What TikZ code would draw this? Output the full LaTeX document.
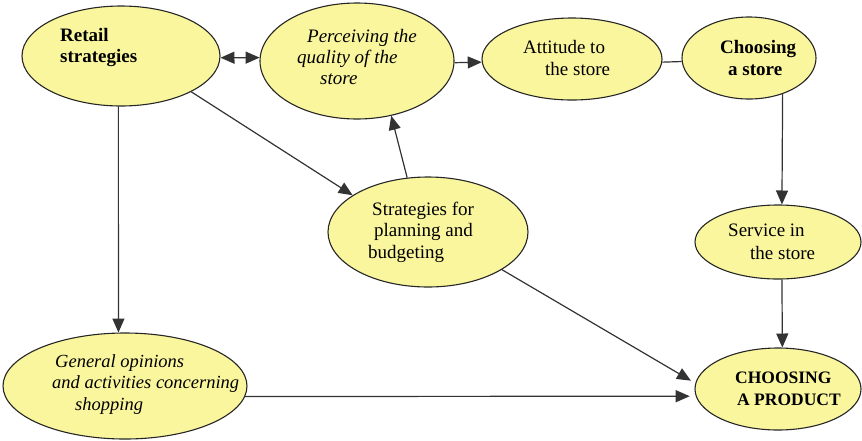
\documentclass[tikz,border=0pt]{standalone}
\usepackage{fontspec}
\setmainfont{Liberation Serif}[Ligatures=TeX]
\newfontfamily\labelfont{Liberation Serif}
\usetikzlibrary{arrows.meta,shapes.geometric}
\definecolor{bubblefill}{RGB}{250,246,158}
\begin{document}
\begin{tikzpicture}[x=1pt,y=-1pt,
  bubble/.style 2 args={ellipse,draw=black!85,line width=1.1pt,fill=bubblefill,
    inner sep=0pt,minimum width=#1,minimum height=#2},
  txt/.style={anchor=north west,inner sep=0pt,align=left,
    font=\labelfont\fontsize{19}{22}\selectfont},
  link/.style={draw=black!80,line width=1.2pt},
  tip/.style={-{Triangle[length=14pt,width=12pt]}},
  arr/.style={link,tip},
  twoway/.style={link,{Triangle[length=14pt,width=12pt]}-{Triangle[length=14pt,width=12pt]}}
]
\useasboundingbox (0,0) rectangle (862,440);

% ellipses
\node[bubble={198pt}{100pt}] (retail) at (121,56) {};
\node[bubble={194pt}{116pt}] (perc)   at (357,61) {};
\node[bubble={180pt}{82pt}]  (att)    at (572,59) {};
\node[bubble={134pt}{82pt}]  (cstore) at (749,58) {};
\node[bubble={200pt}{110pt}] (strat)  at (428,232) {};
\node[bubble={166pt}{74pt}]  (serv)   at (778,242) {};
\node[bubble={166pt}{82pt}]  (prod)   at (778,389) {};
\node[bubble={244pt}{106pt}] (gen)    at (125,386) {};

% labels
\node[txt,font=\labelfont\fontsize{19}{21}\selectfont\bfseries] (retail-t) at (60,27)
  {\strut Retail\\strategies};
\node[txt,font=\labelfont\fontsize{19}{21}\selectfont\itshape] (perc-t) at (297,28)
  {\strut\hspace*{10pt}Perceiving the\\quality of the\\\hspace*{23pt}store};
\node[txt] (att-t) at (523,38)
  {\strut Attitude to\\\hspace*{22pt}the store};
\node[txt,font=\labelfont\fontsize{19}{22}\selectfont\bfseries] (cstore-t) at (720,38)
  {\strut Choosing\\\hspace*{8pt}a store};
\node[txt,font=\labelfont\fontsize{19}{21.5}\selectfont] (strat-t) at (368,200)
  {\strut\hspace*{4pt}Strategies for\\\hspace*{6pt}planning and\\budgeting};
\node[txt,font=\labelfont\fontsize{19}{23}\selectfont] (serv-t) at (728,220)
  {\strut Service in\\\hspace*{22pt}the store};
\node[txt,font=\labelfont\fontsize{17.5}{22}\selectfont\bfseries] (prod-t) at (735,368)
  {\strut CHOOSING\\\hspace*{2pt}A PRODUCT};
\node[txt,font=\labelfont\fontsize{18.5}{21.5}\selectfont\itshape] (gen-t) at (52,352)
  {\strut\hspace*{3pt}General opinions\\and activities concerning\\\hspace*{23pt}shopping};

% connectors
\draw[twoway] (retail.-1) -- (perc.178);
\draw[arr] (perc.-1) -- (att.182);
\draw[link] (att.-2) -- (cstore.183);
\draw[arr] (cstore.-47) -- (serv.84);
\draw[arr] (serv.-84) -- (prod.84);
\draw[arr] (retail.-27) -- (strat.154);
\draw[arr] (strat.111) -- (perc.-58);
\draw[arr,shorten >=5pt] (strat.-27) -- (prod.176);
\draw[arr,shorten >=6pt] (gen.-5) -- (prod.185);
\draw[arr] (retail.-93) -- (gen.97);
\end{tikzpicture}
\end{document}
